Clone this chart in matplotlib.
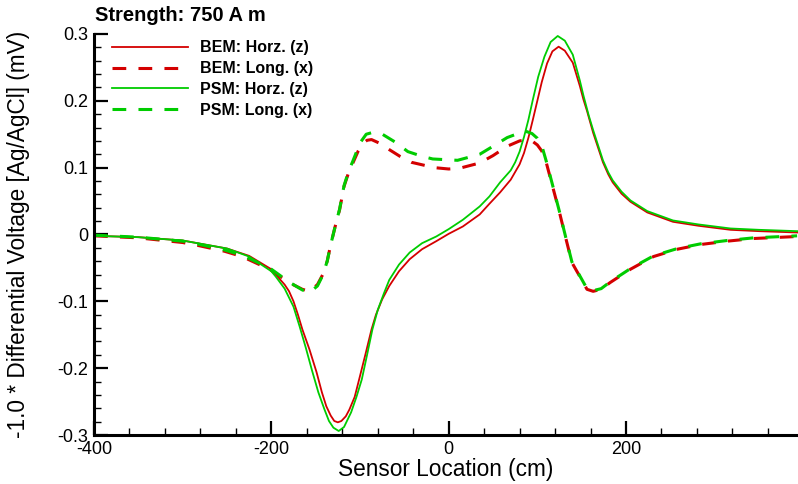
import matplotlib
matplotlib.use("Agg")
import matplotlib.pyplot as plt
from matplotlib.ticker import MultipleLocator, FuncFormatter

plt.rcParams["font.family"] = ["Liberation Sans", "DejaVu Sans"]
plt.rcParams["axes.unicode_minus"] = False

# --- data ---
bem_horz_x = [-400, -350, -300, -250, -225, -200, -195, -185, -180, -175, -170, -165,
              -157, -149, -143, -138, -133, -129, -125, -121, -116, -112, -106, -101,
              -94, -87, -82, -75, -67, -56, -44, -30, -14, 0, 16, 35, 46, 58, 70, 80,
              85, 90, 95, 100, 105, 111, 117, 124, 131, 140, 148, 152, 156, 163, 174,
              180, 185, 195, 205, 224, 253, 282, 318, 350, 393]
bem_horz_y = [-0.002, -0.004, -0.009, -0.021, -0.032, -0.052, -0.060, -0.075, -0.085,
              -0.100, -0.120, -0.142, -0.172, -0.206, -0.236, -0.257, -0.271, -0.279,
              -0.281, -0.279, -0.272, -0.262, -0.243, -0.217, -0.180, -0.142, -0.120,
              -0.097, -0.077, -0.055, -0.037, -0.022, -0.010, 0.001, 0.012, 0.030,
              0.046, 0.063, 0.082, 0.105, 0.122, 0.145, 0.172, 0.200, 0.228, 0.256,
              0.274, 0.281, 0.275, 0.257, 0.222, 0.202, 0.185, 0.152, 0.108, 0.090,
              0.078, 0.061, 0.049, 0.033, 0.019, 0.013, 0.007, 0.005, 0.003]

psm_horz_x = [-400, -350, -300, -250, -225, -200, -195, -185, -175, -168, -161, -154,
              -147, -140, -135, -130, -124, -118, -110, -104, -98, -92, -86, -80, -73,
              -67, -56, -44, -30, -14, 0, 16, 35, 46, 58, 70, 75, 80, 85, 90, 95, 101,
              108, 115, 123, 131, 140, 148, 152, 158, 163, 174, 180, 185, 195, 205,
              224, 253, 282, 318, 350, 393]
psm_horz_y = [-0.002, -0.004, -0.009, -0.021, -0.033, -0.055, -0.063, -0.081, -0.108,
              -0.138, -0.170, -0.204, -0.236, -0.262, -0.279, -0.289, -0.294, -0.288,
              -0.266, -0.243, -0.217, -0.180, -0.142, -0.113, -0.088, -0.068, -0.045,
              -0.027, -0.013, -0.003, 0.008, 0.022, 0.042, 0.057, 0.078, 0.096, 0.108,
              0.124, 0.146, 0.172, 0.202, 0.236, 0.266, 0.288, 0.297, 0.290, 0.269,
              0.230, 0.208, 0.178, 0.156, 0.111, 0.093, 0.081, 0.064, 0.051, 0.035,
              0.021, 0.015, 0.009, 0.007, 0.005]

bem_long_x = [-400, -350, -300, -284, -253, -233, -202, -180, -165, -157, -148, -142,
              -137, -133, -128, -123, -118, -113, -108, -102, -97, -92, -87, -77, -67,
              -55, -42, -16, 0, 12, 35, 50, 66, 80, 89, 95, 100, 105, 110, 116, 125,
              132, 139, 148, 156, 163, 172, 182, 205, 231, 258, 284, 314, 344, 393]
bem_long_y = [-0.002, -0.005, -0.012, -0.016, -0.025, -0.033, -0.052, -0.072, -0.082,
              -0.085, -0.075, -0.060, -0.040, -0.015, 0.012, 0.037, 0.072, 0.092, 0.107,
              0.125, 0.136, 0.141, 0.142, 0.136, 0.127, 0.117, 0.108, 0.100, 0.098,
              0.099, 0.107, 0.118, 0.132, 0.140, 0.142, 0.139, 0.134, 0.125, 0.108,
              0.078, 0.033, -0.005, -0.042, -0.063, -0.082, -0.085, -0.082, -0.072,
              -0.052, -0.033, -0.022, -0.015, -0.010, -0.006, -0.003]

psm_long_x = [-400, -350, -300, -284, -253, -233, -202, -180, -165, -157, -148, -142,
              -137, -133, -128, -123, -118, -113, -108, -100, -93, -85, -76, -60, -46,
              -30, -18, 10, 35, 50, 66, 80, 88, 94, 100, 105, 110, 116, 125, 132, 139,
              148, 156, 163, 172, 182, 205, 231, 258, 284, 314, 344, 393]
psm_long_y = [-0.001, -0.004, -0.010, -0.014, -0.023, -0.031, -0.050, -0.071, -0.083,
              -0.087, -0.077, -0.061, -0.040, -0.015, 0.012, 0.038, 0.073, 0.094, 0.110,
              0.137, 0.150, 0.153, 0.151, 0.138, 0.124, 0.117, 0.113, 0.111, 0.120,
              0.132, 0.145, 0.152, 0.154, 0.151, 0.144, 0.133, 0.110, 0.080, 0.034,
              -0.004, -0.041, -0.062, -0.081, -0.084, -0.081, -0.071, -0.051, -0.032,
              -0.021, -0.014, -0.009, -0.005, -0.002]

RED = "#d40000"
GREEN = "#00cc00"

fig = plt.figure(figsize=(7.98, 4.84), dpi=100)
ax = fig.add_axes([0.1178, 0.1012, 0.8822, 0.8286])

ax.plot(bem_horz_x, bem_horz_y, "-", color=RED, lw=1.3, label="BEM: Horz. (z)")
ax.plot(bem_long_x, bem_long_y, "--", color=RED, lw=2.2, dashes=(4.5, 4),
        label="BEM: Long. (x)")
ax.plot(psm_horz_x, psm_horz_y, "-", color=GREEN, lw=1.3, label="PSM: Horz. (z)")
ax.plot(psm_long_x, psm_long_y, "--", color=GREEN, lw=2.2, dashes=(4.5, 4),
        label="PSM: Long. (x)")

ax.set_xlim(-400, 394)
ax.set_ylim(-0.3, 0.3)

for side in ("top", "right"):
    ax.spines[side].set_visible(False)
for side in ("left", "bottom"):
    ax.spines[side].set_linewidth(2.2)

ax.xaxis.set_major_locator(MultipleLocator(200))
ax.xaxis.set_minor_locator(MultipleLocator(40))
ax.yaxis.set_major_locator(MultipleLocator(0.1))
ax.yaxis.set_minor_locator(MultipleLocator(0.02))
ax.yaxis.set_major_formatter(FuncFormatter(lambda v, p: "%g" % round(v, 3)))
ax.tick_params(which="major", direction="in", length=10, width=1.6, labelsize=13, pad=4)
ax.tick_params(which="minor", direction="in", length=5, width=1.0)

ax.set_xlabel("Sensor Location (cm)", fontsize=16.3, labelpad=0)
ax.set_ylabel("-1.0 * Differential Voltage [Ag/AgCl] (mV)", fontsize=16.3, labelpad=20)

leg = ax.legend(loc="upper left", bbox_to_anchor=(0.0165, 1.0), borderaxespad=0,
                frameon=False, handlelength=4.75, handletextpad=0.75,
                labelspacing=0.36, prop={"weight": "bold", "size": 11.5})

fig.text(0.119, 0.968, "Strength: 750 A m", fontsize=14.5, fontweight="bold",
         ha="left", va="center")

fig.savefig("out.png", dpi=100)
plt.close(fig)
